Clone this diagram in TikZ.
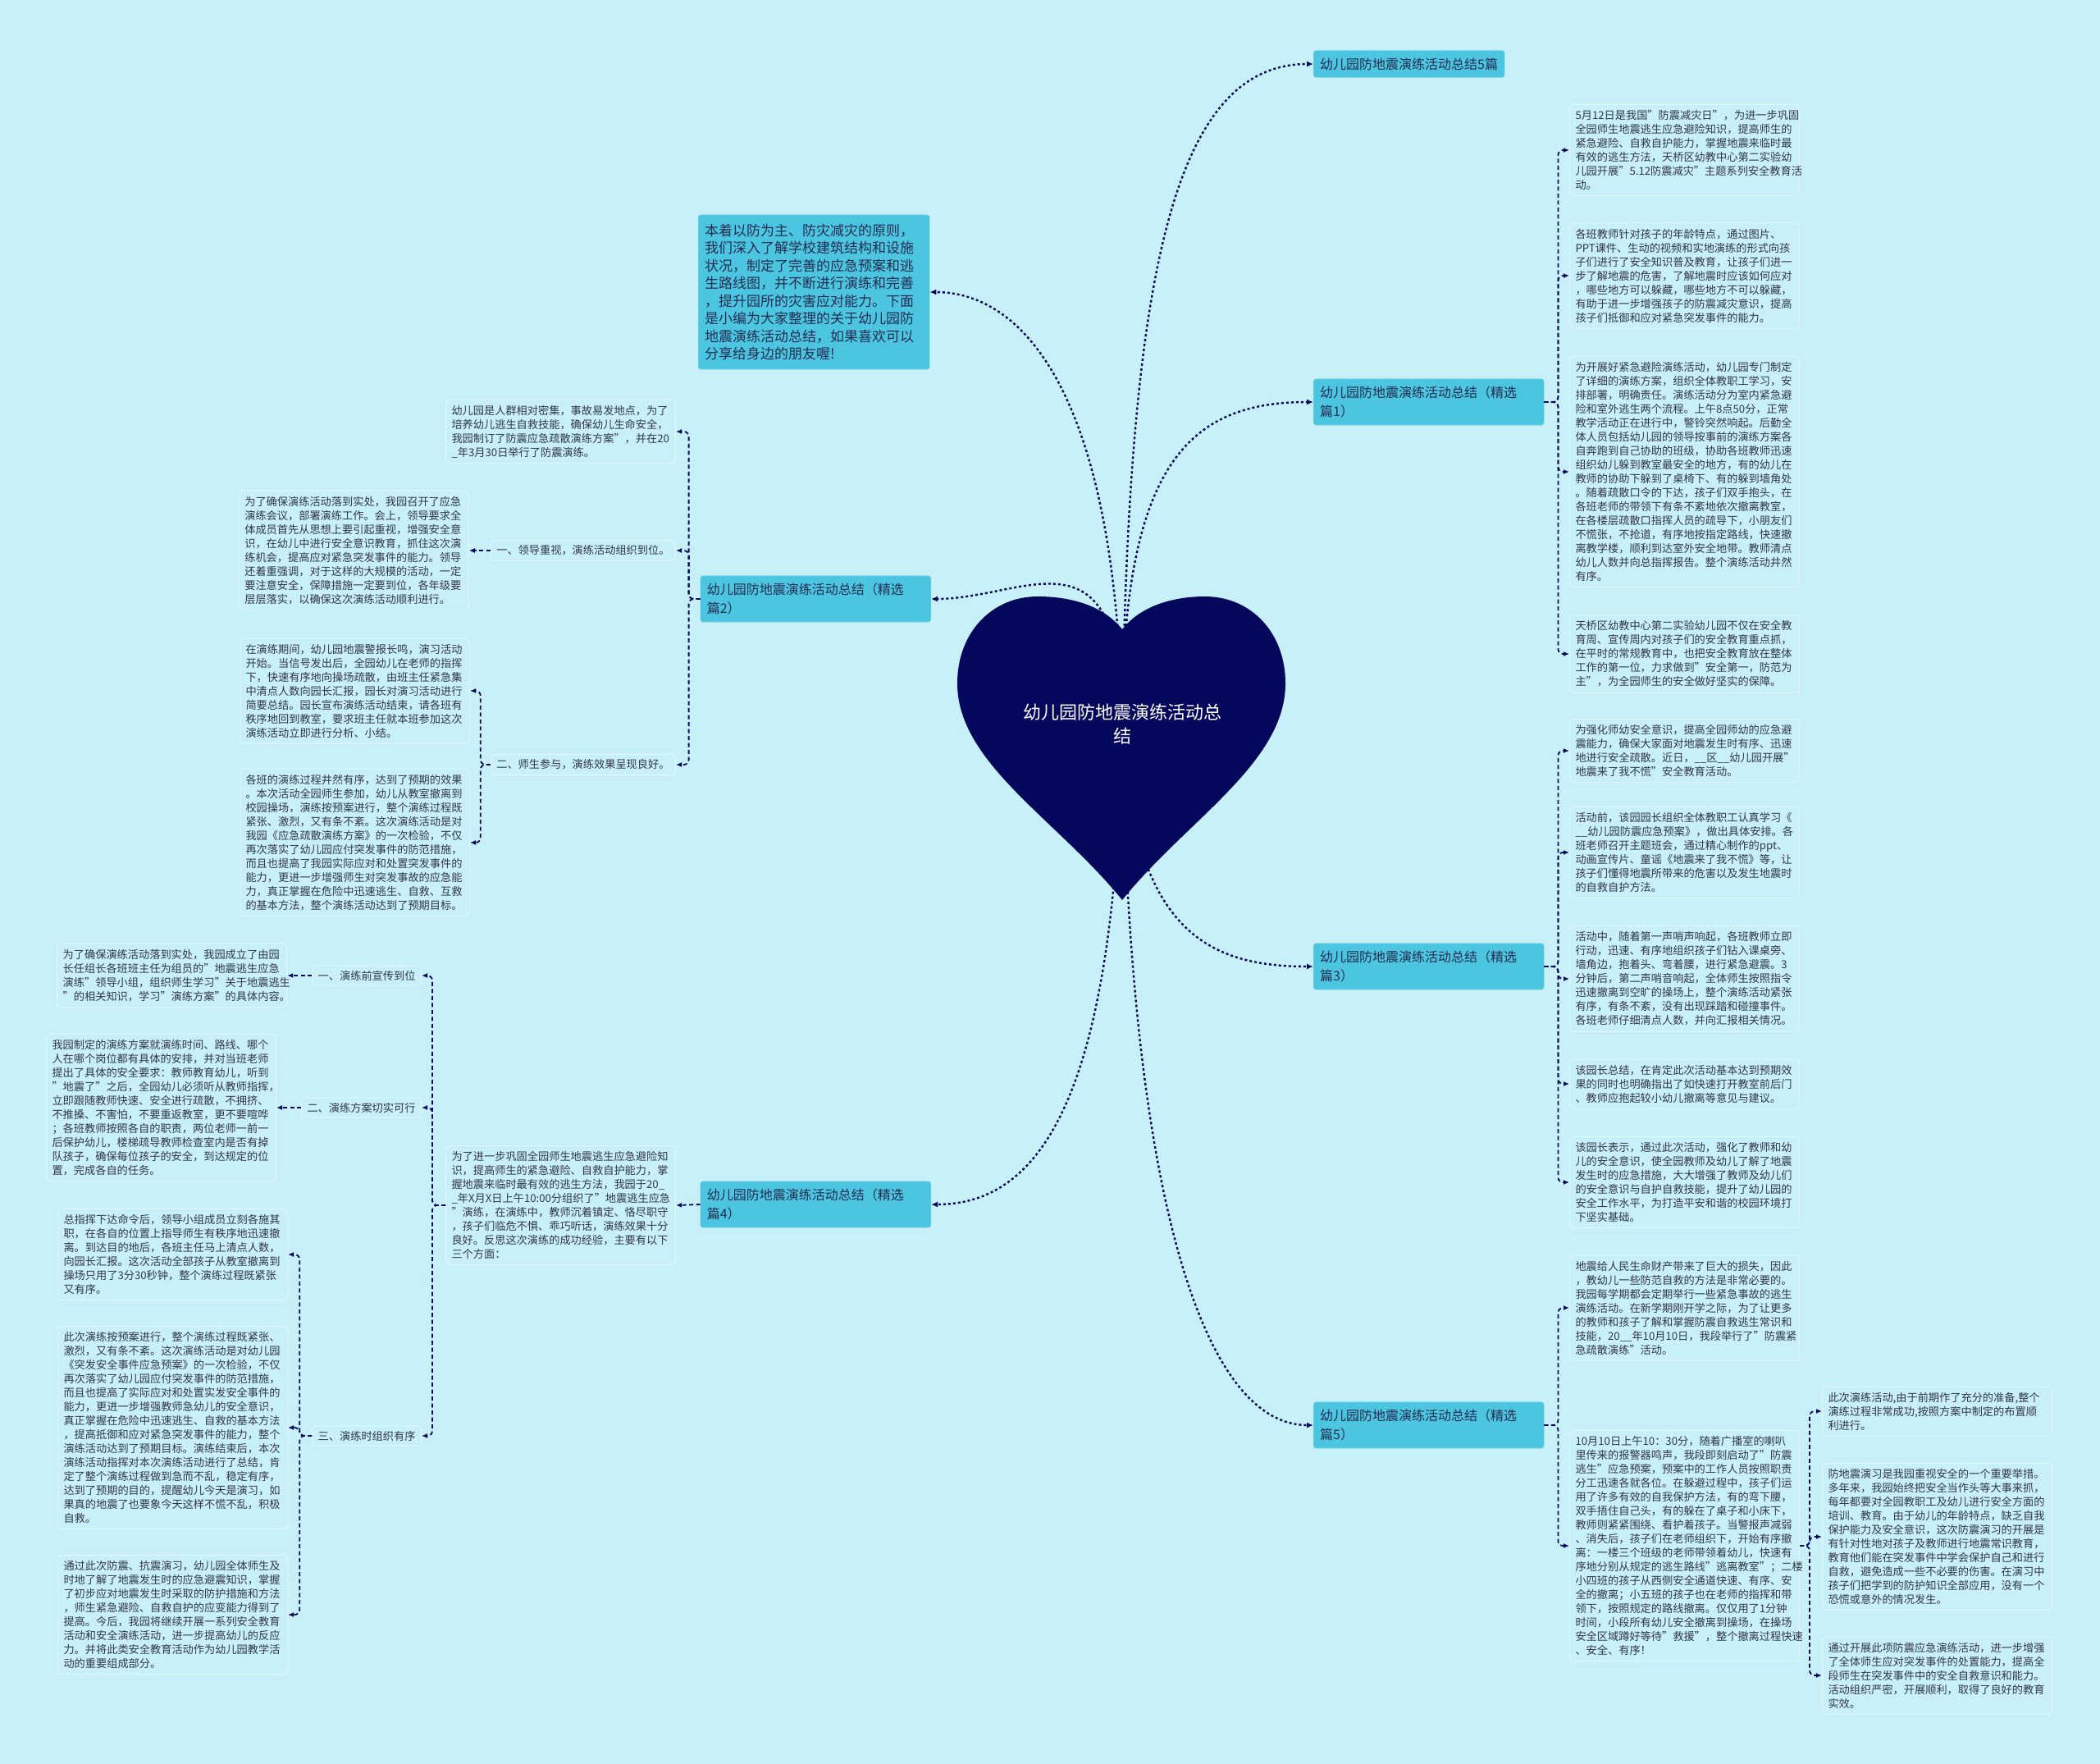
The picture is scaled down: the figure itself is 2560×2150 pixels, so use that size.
\documentclass[tikz,border=0pt]{standalone}
\usepackage{fontspec}
\setmainfont{Noto Sans CJK SC}
\usetikzlibrary{positioning, arrows.meta}
\definecolor{cbg}{RGB}{200,240,248}
\definecolor{cbranch}{RGB}{76,197,225}
\definecolor{cbline}{RGB}{120,214,236}
\definecolor{cnavy}{RGB}{4,8,92}
\definecolor{ctext}{RGB}{50,55,70}
\definecolor{cbtext}{RGB}{35,45,80}
\definecolor{cedge}{RGB}{228,248,252}

\begin{document}
\begin{tikzpicture}[x=1pt, y=-1pt,
    root/.style={text=white, font=\fontsize{22}{29}\selectfont, align=center},
    intro/.style={fill=cbranch, draw=cbline, rounded corners=3pt, text=cbtext, font=\fontsize{17}{21.5}\selectfont, align=left, text width=266pt, inner xsep=8pt, inner ysep=11pt, anchor=west},
    branch/.style={fill=cbranch, draw=cbline, rounded corners=3pt, text=cbtext, font=\fontsize{16}{23}\selectfont, align=left, inner xsep=8pt, inner ysep=9pt, anchor=west},
    leaf/.style={fill=cbg, draw=cedge, line width=1pt, rounded corners=5pt, text=ctext, font=\fontsize{13.2}{17}\selectfont, align=left, text width=266pt, inner xsep=7pt, inner ysep=7pt},
    sub/.style={fill=cbg, draw=cedge, line width=1pt, rounded corners=5pt, text=ctext, font=\fontsize{13.2}{17}\selectfont, inner xsep=7pt, inner ysep=6pt},
    link/.style={-{Latex[length=8pt, width=7pt]}, cnavy, line width=2.4pt, dash pattern=on 3pt off 3pt},
    tie/.style={-{Latex[length=7pt, width=6pt]}, cnavy, line width=1.8pt, dash pattern=on 5pt off 3.5pt, rounded corners=6pt}
]
\useasboundingbox (0,0) rectangle (2560,2150);
\fill[cbg] (0,0) rectangle (2560,2150);

%% Centre and first level
\coordinate (root) at (1368,883);
\node[branch] (title) at (1601,78) {幼儿园防地震演练活动总结5篇};
\node[intro] (intro) at (851,356) {本着以防为主、防灾减灾的原则，\\我们深入了解学校建筑结构和设施\\状况，制定了完善的应急预案和逃\\生路线图，并不断进行演练和完善\\，提升园所的灾害应对能力。下面\\是小编为大家整理的关于幼儿园防\\地震演练活动总结，如果喜欢可以\\分享给身边的朋友喔!};
\node[branch, text width=265pt] (b1) at (1601,490) {幼儿园防地震演练活动总结（精选\\篇1）};
\node[branch, text width=265pt, anchor=east] (b2) at (1135,730) {幼儿园防地震演练活动总结（精选\\篇2）};
\node[branch, text width=265pt] (b3) at (1601,1178) {幼儿园防地震演练活动总结（精选\\篇3）};
\node[branch, text width=265pt, anchor=east] (b4) at (1135,1468) {幼儿园防地震演练活动总结（精选\\篇4）};
\node[branch, text width=265pt] (b5) at (1601,1737) {幼儿园防地震演练活动总结（精选\\篇5）};

%% Part 1
\node[leaf, anchor=west] (r1a) at (1913,183) {5月12日是我国"防震减灾日"，为进一步巩固\\全园师生地震逃生应急避险知识，提高师生的\\紧急避险、自救自护能力，掌握地震来临时最\\有效的逃生方法，天桥区幼教中心第二实验幼\\儿园开展"5.12防震减灾"主题系列安全教育活\\动。};
\node[leaf, anchor=west] (r1b) at (1913,336) {各班教师针对孩子的年龄特点，通过图片、\\PPT课件、生动的视频和实地演练的形式向孩\\子们进行了安全知识普及教育，让孩子们进一\\步了解地震的危害，了解地震时应该如何应对\\，哪些地方可以躲藏，哪些地方不可以躲藏，\\有助于进一步增强孩子的防震减灾意识，提高\\孩子们抵御和应对紧急突发事件的能力。};
\node[leaf, anchor=west] (r1c) at (1913,575) {为开展好紧急避险演练活动，幼儿园专门制定\\了详细的演练方案，组织全体教职工学习，安\\排部署，明确责任。演练活动分为室内紧急避\\险和室外逃生两个流程。上午8点50分，正常\\教学活动正在进行中，警铃突然响起。后勤全\\体人员包括幼儿园的领导按事前的演练方案各\\自奔跑到自己协助的班级，协助各班教师迅速\\组织幼儿躲到教室最安全的地方，有的幼儿在\\教师的协助下躲到了桌椅下、有的躲到墙角处\\。随着疏散口令的下达，孩子们双手抱头，在\\各班老师的带领下有条不紊地依次撤离教室，\\在各楼层疏散口指挥人员的疏导下，小朋友们\\不慌张，不抢道，有序地按指定路线，快速撤\\离教学楼，顺利到达室外安全地带。教师清点\\幼儿人数并向总指挥报告。整个演练活动井然\\有序。};
\node[leaf, anchor=west] (r1d) at (1913,797) {天桥区幼教中心第二实验幼儿园不仅在安全教\\育周、宣传周内对孩子们的安全教育重点抓，\\在平时的常规教育中，也把安全教育放在整体\\工作的第一位，力求做到"安全第一，防范为\\主"，为全园师生的安全做好坚实的保障。};

%% Part 2
\node[leaf, anchor=east] (l2a) at (824,526) {幼儿园是人群相对密集，事故易发地点，为了\\培养幼儿逃生自救技能，确保幼儿生命安全，\\我园制订了防震应急疏散演练方案"，并在20\\\_年3月30日举行了防震演练。};
\node[sub, anchor=east] (l2s1) at (824,671) {一、领导重视，演练活动组织到位。};
\node[leaf, left=26pt of l2s1] (l2s1c) {为了确保演练活动落到实处，我园召开了应急\\演练会议，部署演练工作。会上，领导要求全\\体成员首先从思想上要引起重视，增强安全意\\识，在幼儿中进行安全意识教育，抓住这次演\\练机会，提高应对紧急突发事件的能力。领导\\还着重强调，对于这样的大规模的活动，一定\\要注意安全，保障措施一定要到位，各年级要\\层层落实，以确保这次演练活动顺利进行。};
\node[sub, anchor=east] (l2s2) at (824,932) {二、师生参与，演练效果呈现良好。};
\node[leaf, anchor=east] (l2s2a) at (573,842) {在演练期间，幼儿园地震警报长鸣，演习活动\\开始。当信号发出后，全园幼儿在老师的指挥\\下，快速有序地向操场疏散，由班主任紧急集\\中清点人数向园长汇报，园长对演习活动进行\\简要总结。园长宣布演练活动结束，请各班有\\秩序地回到教室，要求班主任就本班参加这次\\演练活动立即进行分析、小结。};
\node[leaf, anchor=east] (l2s2b) at (573,1027) {各班的演练过程井然有序，达到了预期的效果\\。本次活动全园师生参加，幼儿从教室撤离到\\校园操场，演练按预案进行，整个演练过程既\\紧张、激烈，又有条不紊。这次演练活动是对\\我园《应急疏散演练方案》的一次检验，不仅\\再次落实了幼儿园应付突发事件的防范措施，\\而且也提高了我园实际应对和处置突发事件的\\能力，更进一步增强师生对突发事故的应急能\\力，真正掌握在危险中迅速逃生、自救、互救\\的基本方法，整个演练活动达到了预期目标。};

%% Part 3
\node[leaf, anchor=west] (r3a) at (1913,915) {为强化师幼安全意识，提高全园师幼的应急避\\震能力，确保大家面对地震发生时有序、迅速\\地进行安全疏散。近日，\_\_区\_\_幼儿园开展"\\地震来了我不慌"安全教育活动。};
\node[leaf, anchor=west] (r3b) at (1913,1039) {活动前，该园园长组织全体教职工认真学习《\\\_\_幼儿园防震应急预案》，做出具体安排。各\\班老师召开主题班会，通过精心制作的ppt、\\动画宣传片、童谣《地震来了我不慌》等，让\\孩子们懂得地震所带来的危害以及发生地震时\\的自救自护方法。};
\node[leaf, anchor=west] (r3c) at (1913,1193) {活动中，随着第一声哨声响起，各班教师立即\\行动，迅速、有序地组织孩子们钻入课桌旁、\\墙角边，抱着头、弯着腰，进行紧急避震。3\\分钟后，第二声哨音响起，全体师生按照指令\\迅速撤离到空旷的操场上，整个演练活动紧张\\有序，有条不紊，没有出现踩踏和碰撞事件。\\各班老师仔细清点人数，并向汇报相关情况。};
\node[leaf, anchor=west] (r3d) at (1913,1321) {该园长总结，在肯定此次活动基本达到预期效\\果的同时也明确指出了如快速打开教室前后门\\、教师应抱起较小幼儿撤离等意见与建议。};
\node[leaf, anchor=west] (r3e) at (1913,1441) {该园长表示，通过此次活动，强化了教师和幼\\儿的安全意识，使全园教师及幼儿了解了地震\\发生时的应急措施，大大增强了教师及幼儿们\\的安全意识与自护自救技能，提升了幼儿园的\\安全工作水平，为打造平安和谐的校园环境打\\下坚实基础。};

%% Part 4
\node[leaf, anchor=east] (l4) at (824,1469) {为了进一步巩固全园师生地震逃生应急避险知\\识，提高师生的紧急避险、自救自护能力，掌\\握地震来临时最有效的逃生方法，我园于20\_\\\_年X月X日上午10:00分组织了"地震逃生应急\\"演练，在演练中，教师沉着镇定、恪尽职守\\，孩子们临危不惧、乖巧听话，演练效果十分\\良好。反思这次演练的成功经验，主要有以下\\三个方面：};
\node[sub, anchor=east] (s1) at (514,1189) {一、演练前宣传到位};
\node[leaf, left=30pt of s1] (c1) {为了确保演练活动落到实处，我园成立了由园\\长任组长各班班主任为组员的"地震逃生应急\\演练"领导小组，组织师生学习"关于地震逃生\\"的相关知识，学习"演练方案"的具体内容。};
\node[sub, anchor=east] (s2) at (514,1350) {二、演练方案切实可行};
\node[leaf, left=30pt of s2] (c2) {我园制定的演练方案就演练时间、路线、哪个\\人在哪个岗位都有具体的安排，并对当班老师\\提出了具体的安全要求：教师教育幼儿，听到\\"地震了"之后，全园幼儿必须听从教师指挥，\\立即跟随教师快速、安全进行疏散，不拥挤、\\不推搡、不害怕，不要重返教室，更不要喧哗\\；各班教师按照各自的职责，两位老师一前一\\后保护幼儿，楼梯疏导教师检查室内是否有掉\\队孩子，确保每位孩子的安全，到达规定的位\\置，完成各自的任务。};
\node[sub, anchor=east] (s3) at (514,1750) {三、演练时组织有序};
\node[leaf, anchor=east] (c3a) at (351,1529) {总指挥下达命令后，领导小组成员立刻各施其\\职，在各自的位置上指导师生有秩序地迅速撤\\离。到达目的地后，各班主任马上清点人数，\\向园长汇报。这次活动全部孩子从教室撤离到\\操场只用了3分30秒钟，整个演练过程既紧张\\又有序。};
\node[leaf, anchor=east] (c3b) at (351,1740) {此次演练按预案进行，整个演练过程既紧张、\\激烈，又有条不紊。这次演练活动是对幼儿园\\《突发安全事件应急预案》的一次检验，不仅\\再次落实了幼儿园应付突发事件的防范措施，\\而且也提高了实际应对和处置实发安全事件的\\能力，更进一步增强教师急幼儿的安全意识，\\真正掌握在危险中迅速逃生、自救的基本方法\\，提高抵御和应对紧急突发事件的能力，整个\\演练活动达到了预期目标。演练结束后，本次\\演练活动指挥对本次演练活动进行了总结，肯\\定了整个演练过程做到急而不乱，稳定有序，\\达到了预期的目的，提醒幼儿今天是演习，如\\果真的地震了也要象今天这样不慌不乱，积极\\自救。};
\node[leaf, anchor=east] (c3c) at (351,1968) {通过此次防震、抗震演习，幼儿园全体师生及\\时地了解了地震发生时的应急避震知识，掌握\\了初步应对地震发生时采取的防护措施和方法\\，师生紧急避险、自救自护的应变能力得到了\\提高。今后，我园将继续开展一系列安全教育\\活动和安全演练活动，进一步提高幼儿的反应\\力。并将此类安全教育活动作为幼儿园教学活\\动的重要组成部分。};

%% Part 5
\node[leaf, anchor=west] (r5a) at (1913,1594) {地震给人民生命财产带来了巨大的损失，因此\\，教幼儿一些防范自救的方法是非常必要的。\\我园每学期都会定期举行一些紧急事故的逃生\\演练活动。在新学期刚开学之际，为了让更多\\的教师和孩子了解和掌握防震自救逃生常识和\\技能，20\_\_年10月10日，我段举行了"防震紧\\急疏散演练"活动。};
\node[leaf, anchor=west] (r5b) at (1913,1884) {10月10日上午10：30分，随着广播室的喇叭\\里传来的报警器鸣声，我段即刻启动了"防震\\逃生"应急预案，预案中的工作人员按照职责\\分工迅速各就各位。在躲避过程中，孩子们运\\用了许多有效的自我保护方法，有的弯下腰，\\双手捂住自己头，有的躲在了桌子和小床下，\\教师则紧紧围绕、看护着孩子。当警报声减弱\\、消失后，孩子们在老师组织下，开始有序撤\\离：一楼三个班级的老师带领着幼儿，快速有\\序地分别从规定的逃生路线"逃离教室"；二楼\\小四班的孩子从西侧安全通道快速、有序、安\\全的撤离；小五班的孩子也在老师的指挥和带\\领下，按照规定的路线撤离。仅仅用了1分钟\\时间，小段所有幼儿安全撤离到操场，在操场\\安全区域蹲好等待"救援"，整个撤离过程快速\\、安全、有序！};
\node[leaf, anchor=west] (f1) at (2221,1720) {此次演练活动,由于前期作了充分的准备,整个\\演练过程非常成功,按照方案中制定的布置顺\\利进行。};
\node[leaf, anchor=west] (f2) at (2221,1873) {防地震演习是我园重视安全的一个重要举措。\\多年来，我园始终把安全当作头等大事来抓，\\每年都要对全园教职工及幼儿进行安全方面的\\培训、教育。由于幼儿的年龄特点，缺乏自我\\保护能力及安全意识，这次防震演习的开展是\\有针对性地对孩子及教师进行地震常识教育，\\教育他们能在突发事件中学会保护自己和进行\\自救，避免造成一些不必要的伤害。在演习中\\孩子们把学到的防护知识全部应用，没有一个\\恐慌或意外的情况发生。};
\node[leaf, anchor=west] (f3) at (2221,2042) {通过开展此项防震应急演练活动，进一步增强\\了全体师生应对突发事件的处置能力，提高全\\段师生在突发事件中的安全自救意识和能力。\\活动组织严密，开展顺利，取得了良好的教育\\实效。};

%% Links from the centre
\draw[link] (root) .. controls +(8,-550) and +(-170,0) .. (title.west);
\draw[link] (root) .. controls +(-7,-400) and +(115,0) .. (intro.east);
\draw[link] (root) .. controls +(0,-320) and +(-150,0) .. (b1.west);
\draw[link] (root) .. controls +(0,-250) and +(115,0) .. (b2.east);
\draw[link] (root) .. controls +(12,250) and +(-130,0) .. (b3.west);
\draw[link] (root) .. controls +(-8,450) and +(135,0) .. (b4.east);
\draw[link] (root) .. controls +(7,550) and +(-140,0) .. (b5.west);

%% Brackets
\draw[tie] (b1.east) -- ++(17,0) |- (r1a.west);
\draw[tie] (b1.east) -- ++(17,0) |- (r1b.west);
\draw[tie] (b1.east) -- ++(17,0) |- (r1c.west);
\draw[tie] (b1.east) -- ++(17,0) |- (r1d.west);
\draw[tie] (b2.west) -- ++(-14,0) |- (l2a.east);
\draw[tie] (b2.west) -- ++(-14,0) |- (l2s1.east);
\draw[tie] (b2.west) -- ++(-14,0) |- (l2s2.east);
\draw[tie] (l2s1.west) -- (l2s1c.east);
\draw[tie] (l2s2.west) -- ++(-12,0) |- (l2s2a.east);
\draw[tie] (l2s2.west) -- ++(-12,0) |- (l2s2b.east);
\draw[tie] (b3.east) -- ++(17,0) |- (r3a.west);
\draw[tie] (b3.east) -- ++(17,0) |- (r3b.west);
\draw[tie] (b3.east) -- ++(17,0) |- (r3c.west);
\draw[tie] (b3.east) -- ++(17,0) |- (r3d.west);
\draw[tie] (b3.east) -- ++(17,0) |- (r3e.west);
\draw[tie] (b4.west) -- (l4.east);
\draw[tie] (l4.west) -- ++(-16,0) |- (s1.east);
\draw[tie] (l4.west) -- ++(-16,0) |- (s2.east);
\draw[tie] (l4.west) -- ++(-16,0) |- (s3.east);
\draw[tie] (s1.west) -- (c1.east);
\draw[tie] (s2.west) -- (c2.east);
\draw[tie] (s3.west) -- ++(-15,0) |- (c3a.east);
\draw[tie] (s3.west) -- ++(-15,0) |- (c3b.east);
\draw[tie] (s3.west) -- ++(-15,0) |- (c3c.east);
\draw[tie] (b5.east) -- ++(17,0) |- (r5a.west);
\draw[tie] (b5.east) -- ++(17,0) |- (r5b.west);
\draw[tie] (r5b.east) -- ++(12,0) |- (f1.west);
\draw[tie] (r5b.east) -- ++(12,0) |- (f2.west);
\draw[tie] (r5b.east) -- ++(12,0) |- (f3.west);

%% Heart
\fill[cnavy] (1368,767) .. controls (1345,738) and (1305,727) .. (1265,727)
  .. controls (1210,727) and (1167,770) .. (1167,833)
  .. controls (1167,930) and (1290,1000) .. (1368,1097)
  .. controls (1446,1000) and (1567,930) .. (1567,833)
  .. controls (1567,770) and (1524,727) .. (1469,727)
  .. controls (1431,727) and (1391,738) .. (1368,767) -- cycle;
\node[root] (rootlbl) at (root) {幼儿园防地震演练活动总\\结};
\end{tikzpicture}
\end{document}
